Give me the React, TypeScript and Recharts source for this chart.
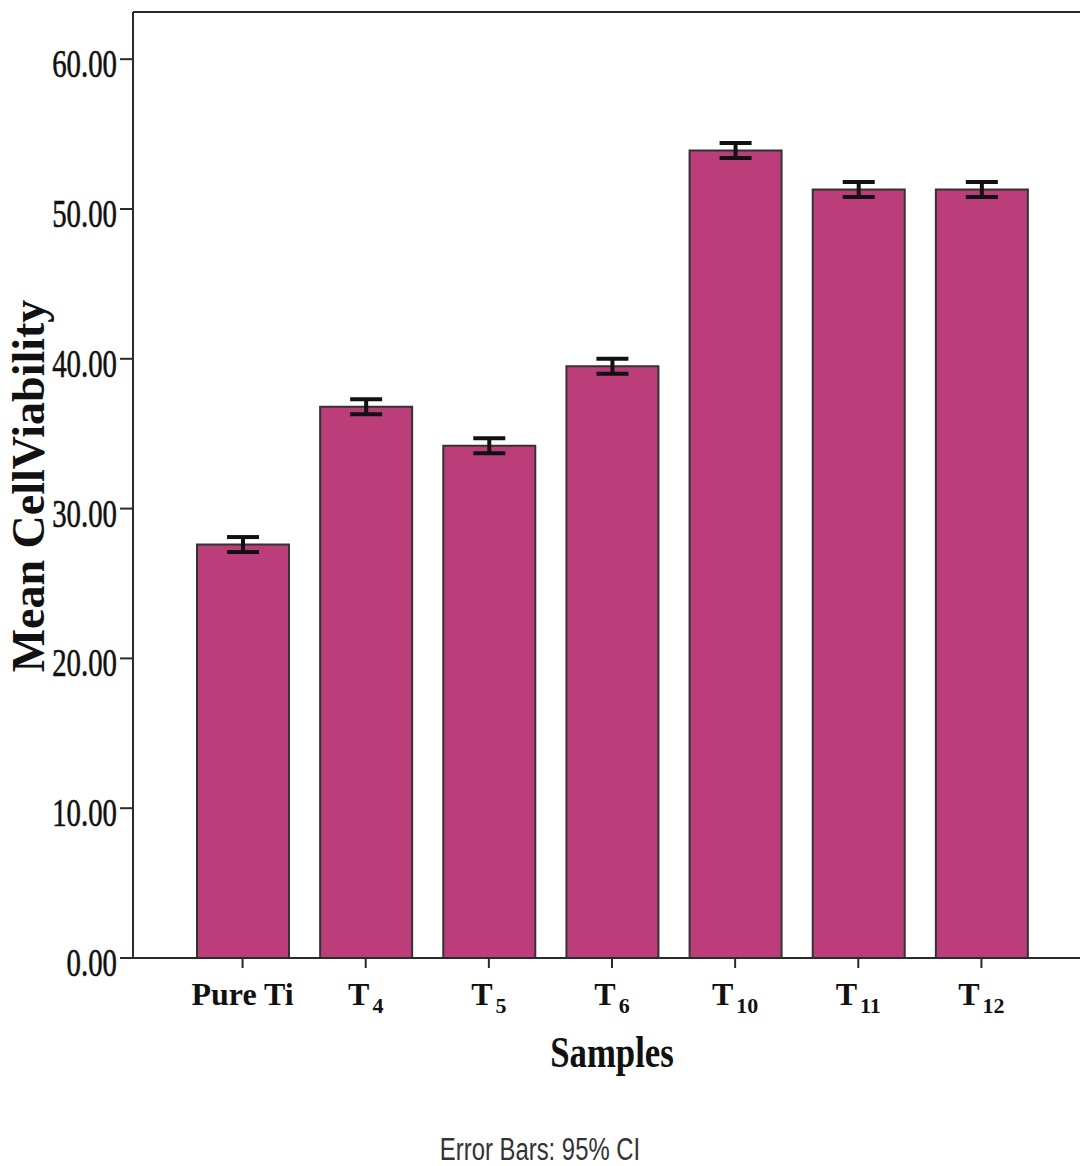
import React from 'react';
import { BarChart, Bar, XAxis, YAxis, ErrorBar, ReferenceLine } from 'recharts';

const samples = ['Pure Ti', 'T4', 'T5', 'T6', 'T10', 'T11', 'T12'];
const meanViability = [27.6, 36.8, 34.2, 39.5, 53.9, 51.3, 51.3];
const ci95 = [0.5, 0.5, 0.5, 0.5, 0.5, 0.5, 0.5];
const yTicks = [0, 10, 20, 30, 40, 50, 60];
const Y_MAX = 63.15;

const data = samples.map((name, i) => ({
  name,
  value: meanViability[i],
  err: ci95[i],
}));

const SERIF = '"Liberation Serif", "Times New Roman", serif';
const SANS = '"Liberation Sans", Arial, sans-serif';
const AXIS = '#2b2b2b';
const BAR = '#bb3d7a';

function YTick(props: any) {
  const { x, y, payload } = props;
  return (
    <text
      transform={`translate(${x},${y + 18}) scale(0.72,1)`}
      textAnchor="end"
      fontFamily={SERIF}
      fontSize={40}
      fill="#111"
      stroke="#111"
      strokeWidth={0.6}
    >
      {Number(payload.value).toFixed(2)}
    </text>
  );
}

function XTick(props: any) {
  const { x, y, payload } = props;
  const label: string = payload.value;
  const m = /^T(\d+)$/.exec(label);
  return (
    <text
      x={x}
      y={y + 35}
      textAnchor="middle"
      fontFamily={SERIF}
      fontWeight="bold"
      fontSize={32}
      fill="#111"
    >
      {m ? (
        <>
          <tspan>T</tspan>
          <tspan dx={3} dy={8} fontSize={22}>{m[1]}</tspan>
        </>
      ) : (
        label
      )}
    </text>
  );
}

function XTitle(props: any) {
  const { viewBox } = props;
  const cx = viewBox.x + viewBox.width / 2;
  return (
    <text
      transform={`translate(${cx},${1067}) scale(0.79,1)`}
      textAnchor="middle"
      fontFamily={SERIF}
      fontWeight="bold"
      fontSize={44}
      fill="#111"
    >
      Samples
    </text>
  );
}

function YTitle() {
  return (
    <text
      transform="translate(44,486) rotate(-90)"
      textAnchor="middle"
      fontFamily={SERIF}
      fontWeight="bold"
      fontSize={46}
      fill="#111"
    >
      Mean CellViability
    </text>
  );
}

export default function App() {
  return (
    <div
      style={{
        position: 'absolute',
        left: 0,
        top: 0,
        width: 1080,
        height: 1166,
        overflow: 'hidden',
        background: '#fff',
      }}
    >
      <BarChart
        width={1100}
        height={1166}
        data={data}
        margin={{ top: 12, right: 9, left: 0, bottom: 0 }}
      >
        <XAxis
          dataKey="name"
          height={208}
          padding={{ left: 48, right: 48 }}
          tick={<XTick />}
          tickSize={10}
          axisLine={{ stroke: AXIS, strokeWidth: 2 }}
          tickLine={{ stroke: AXIS, strokeWidth: 2 }}
          interval={0}
          label={{ content: <XTitle /> }}
        />
        <YAxis
          width={133}
          domain={[0, Y_MAX]}
          ticks={yTicks}
          tick={<YTick />}
          tickSize={13}
          tickMargin={3}
          axisLine={{ stroke: AXIS, strokeWidth: 2 }}
          tickLine={{ stroke: AXIS, strokeWidth: 2 }}
          label={{ content: <YTitle /> }}
        />
        <ReferenceLine y={Y_MAX} stroke={AXIS} strokeWidth={2} ifOverflow="extendDomain" />
        <Bar
          dataKey="value"
          fill={BAR}
          stroke="#333"
          strokeWidth={2}
          barSize={92}
          isAnimationActive={false}
        >
          <ErrorBar
            dataKey="err"
            width={16}
            stroke="#111"
            strokeWidth={4}
            direction="y"
          />
        </Bar>
      </BarChart>
      <div
        style={{
          position: 'absolute',
          left: 0,
          width: 1080,
          top: 1132,
          textAlign: 'center',
          fontFamily: SANS,
          fontSize: 31,
          color: '#333',
          transform: 'scaleX(0.77)',
          lineHeight: '36px',
        }}
      >
        Error Bars: 95% CI
      </div>
    </div>
  );
}
